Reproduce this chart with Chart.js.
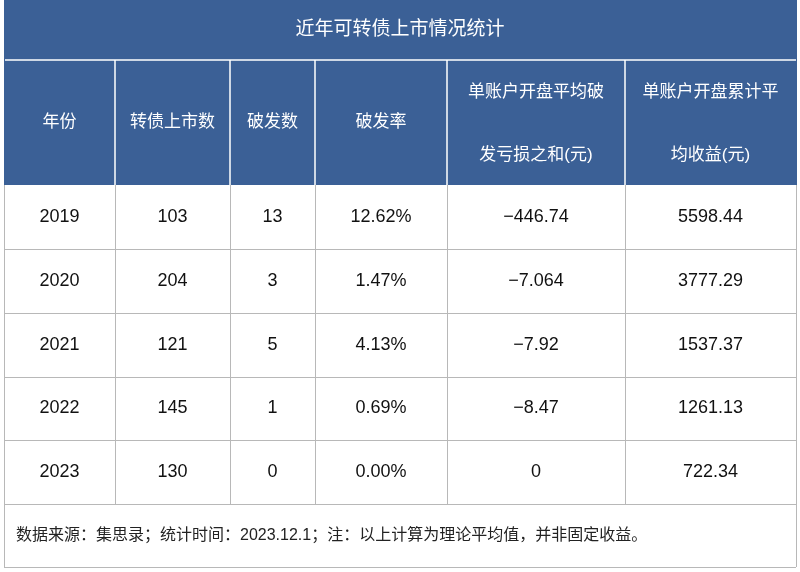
<!DOCTYPE html>
<html>
<head>
<meta charset="utf-8">
<script src="https://cdn.jsdelivr.net/npm/chart.js@4/dist/chart.umd.min.js"></script>
<style>
  html, body { margin: 0; padding: 0; background: #fff; }
  #wrap { width: 800px; height: 572px; }
</style>
</head>
<body>
<div id="wrap"><canvas id="tbl" width="800" height="572"></canvas></div>
<script>
// Table data
const title = '近年可转债上市情况统计';
const headers = [
    ['年份'], ['转债上市数'], ['破发数'], ['破发率'],
    ['单账户开盘平均破', '发亏损之和(元)'], ['单账户开盘累计平', '均收益(元)']
];
const years = ['2019', '2020', '2021', '2022', '2023'];
const listed = [103, 204, 121, 145, 130];
const broken = [13, 3, 5, 1, 0];
const brokenRate = ['12.62%', '1.47%', '4.13%', '0.69%', '0.00%'];
const avgLoss = ['\u2212446.74', '\u22127.064', '\u22127.92', '\u22128.47', '0'];
const avgGain = ['5598.44', '3777.29', '1537.37', '1261.13', '722.34'];
const footnote = '数据来源：集思录；统计时间：2023.12.1；注：以上计算为理论平均值，并非固定收益。';

// Layout (pixel grid of the table)
const colEdges = [4, 115, 230, 315, 447, 625, 796];
const rowEdges = [0, 60, 185, 249, 313, 377, 440, 504, 567];
const blue = '#3b6096';
const font = '"Liberation Sans", "Noto Sans CJK SC", sans-serif';

const tablePlugin = {
    id: 'tablePlugin',
    afterDraw(chart) {
        const ctx = chart.ctx;
        const xs = chart.scales.x, ys = chart.scales.y;
        const X = v => xs.getPixelForValue(v);
        const Y = v => ys.getPixelForValue(v);
        const L = X(colEdges[0]), R = X(colEdges[colEdges.length - 1]);
        ctx.save();

        // title + header background
        ctx.fillStyle = blue;
        ctx.fillRect(L, Y(rowEdges[0]), R - L, Y(rowEdges[2]) - Y(rowEdges[0]));

        // white separators in header
        ctx.strokeStyle = '#ffffff';
        ctx.lineWidth = 1.5;
        ctx.beginPath();
        ctx.moveTo(L, Y(rowEdges[1])); ctx.lineTo(R, Y(rowEdges[1]));
        for (let i = 1; i < colEdges.length - 1; i++) {
            ctx.moveTo(X(colEdges[i]), Y(rowEdges[1]));
            ctx.lineTo(X(colEdges[i]), Y(rowEdges[2]));
        }
        ctx.stroke();

        // body grid
        ctx.strokeStyle = '#b8b8b8';
        ctx.lineWidth = 1;
        ctx.beginPath();
        for (let r = 3; r < rowEdges.length; r++) {
            ctx.moveTo(L, Y(rowEdges[r]) + 0.5); ctx.lineTo(R, Y(rowEdges[r]) + 0.5);
        }
        for (let i = 0; i < colEdges.length; i++) {
            const bottom = (i === 0 || i === colEdges.length - 1) ? rowEdges[8] : rowEdges[7];
            ctx.moveTo(X(colEdges[i]) + 0.5, Y(rowEdges[2]));
            ctx.lineTo(X(colEdges[i]) + 0.5, Y(bottom));
        }
        ctx.stroke();
        ctx.strokeStyle = blue;
        ctx.beginPath();
        ctx.moveTo(L + 0.5, Y(rowEdges[0])); ctx.lineTo(L + 0.5, Y(rowEdges[2]));
        ctx.moveTo(R + 0.5, Y(rowEdges[0])); ctx.lineTo(R + 0.5, Y(rowEdges[2]));
        ctx.stroke();

        ctx.textAlign = 'center';
        ctx.textBaseline = 'middle';

        // title
        ctx.fillStyle = '#ffffff';
        ctx.font = '19px ' + font;
        ctx.fillText(title, (L + R) / 2, (Y(rowEdges[0]) + Y(rowEdges[1])) / 2);

        // headers
        ctx.font = '17px ' + font;
        const hTop = Y(rowEdges[1]), hBot = Y(rowEdges[2]);
        headers.forEach((h, i) => {
            const cx = (X(colEdges[i]) + X(colEdges[i + 1])) / 2;
            if (h.length === 1) {
                ctx.fillText(h[0], cx, (hTop + hBot) / 2);
            } else {
                ctx.fillText(h[0], cx, hTop + 32);
                ctx.fillText(h[1], cx, hBot - 30);
            }
        });

        // body
        ctx.fillStyle = '#111111';
        ctx.font = '18px ' + font;
        const cols = [years, listed, broken, brokenRate, avgLoss, avgGain];
        years.forEach((_, r) => {
            const cy = (Y(rowEdges[r + 2]) + Y(rowEdges[r + 3])) / 2;
            cols.forEach((col, i) => {
                const cx = (X(colEdges[i]) + X(colEdges[i + 1])) / 2;
                ctx.fillText(String(col[r]), cx, cy);
            });
        });

        // footnote
        ctx.textAlign = 'left';
        ctx.font = '16px ' + font;
        ctx.fillStyle = '#222222';
        ctx.fillText(footnote, L + 12, (Y(rowEdges[7]) + Y(rowEdges[8])) / 2);
        ctx.restore();
    }
};

new Chart(document.getElementById('tbl'), {
    type: 'scatter',
    data: { datasets: [{ data: [] }] },
    options: {
        responsive: false,
        animation: false,
        layout: { padding: 0 },
        plugins: { legend: { display: false }, tooltip: { enabled: false } },
        scales: {
            x: { type: 'linear', min: 0, max: 800, display: false },
            y: { type: 'linear', min: 0, max: 572, reverse: true, display: false }
        }
    },
    plugins: [tablePlugin]
});
</script>
</body>
</html>
